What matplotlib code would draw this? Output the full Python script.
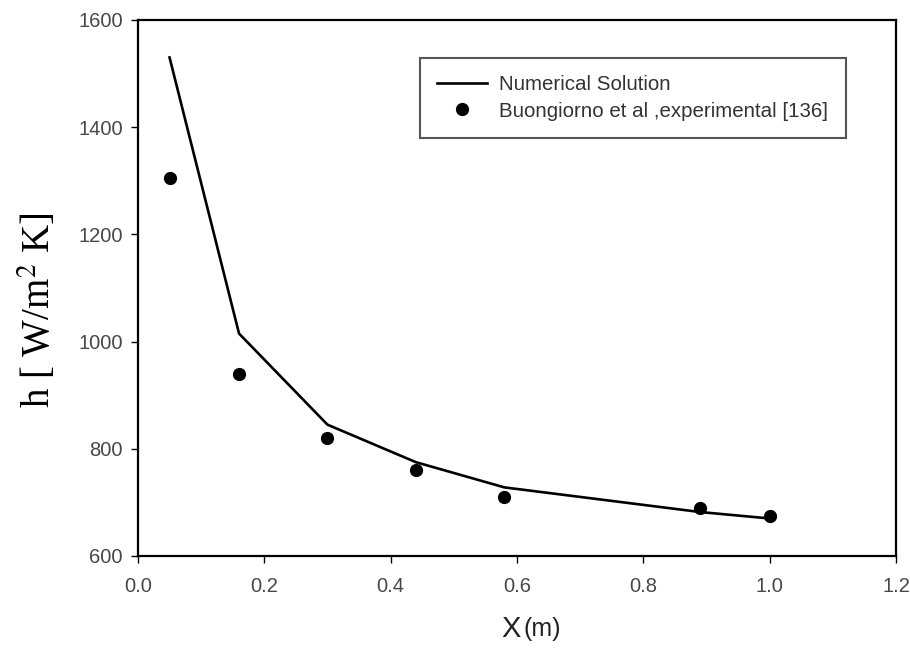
import matplotlib.pyplot as plt

# Numerical solution (line)
x_num = [0.05, 0.16, 0.30, 0.44, 0.58, 0.89, 1.0]
h_num = [1530, 1015, 845, 775, 728, 682, 670]

# Buongiorno et al experimental (dots)
x_exp = [0.05, 0.16, 0.30, 0.44, 0.58, 0.89, 1.0]
h_exp = [1305, 940, 820, 760, 710, 690, 675]

x_ticks = [0.0, 0.2, 0.4, 0.6, 0.8, 1.0, 1.2]
y_ticks = [600, 800, 1000, 1200, 1400, 1600]

fig = plt.figure(figsize=(9.1, 6.49), dpi=100)
ax = fig.add_axes([0.1516, 0.1433, 0.833, 0.826])

ax.plot(x_num, h_num, color='black', lw=1.9, label='Numerical Solution')
ax.plot(x_exp, h_exp, 'o', color='black', ms=8.5, label='Buongiorno et al ,experimental [136]')

ax.set_xlim(0, 1.2)
ax.set_ylim(600, 1600)
ax.set_xticks(x_ticks)
ax.set_xticklabels([f'{v:.1f}' for v in x_ticks])
ax.set_yticks(y_ticks)

for s in ax.spines.values():
    s.set_linewidth(1.6)
ax.tick_params(direction='out', length=5, width=1, labelsize=14.5,
               labelcolor='#484848', labelfontfamily='Liberation Sans')
ax.tick_params(axis='x', pad=10)
ax.tick_params(axis='y', pad=6)

ax.set_ylabel(r'h [ W/m$^2$ K]', fontsize=28, family='Liberation Serif',
              math_fontfamily='stix')
ax.yaxis.set_label_coords(-0.104, 0.458)

# x label: big "X", smaller "(m)"
ax.text(0.505, -0.136, 'X', transform=ax.transAxes, ha='right', va='center',
        fontsize=21, family='Liberation Sans', color='#222222')
ax.text(0.509, -0.136, '(m)', transform=ax.transAxes, ha='left', va='center',
        fontsize=18, family='Liberation Sans', color='#222222')

leg = ax.legend(loc='upper left', bbox_to_anchor=(0.372, 0.929), borderaxespad=0,
                fancybox=False, edgecolor='#555555', framealpha=1,
                handlelength=2.4, handletextpad=0.6,
                prop={'family': 'Liberation Sans', 'size': 14.8}, borderpad=0.85,
                labelspacing=0.35)
for t in leg.get_texts():
    t.set_color('#333333')
leg.get_frame().set_linewidth(1.5)

fig.savefig('out.png', dpi=100)
